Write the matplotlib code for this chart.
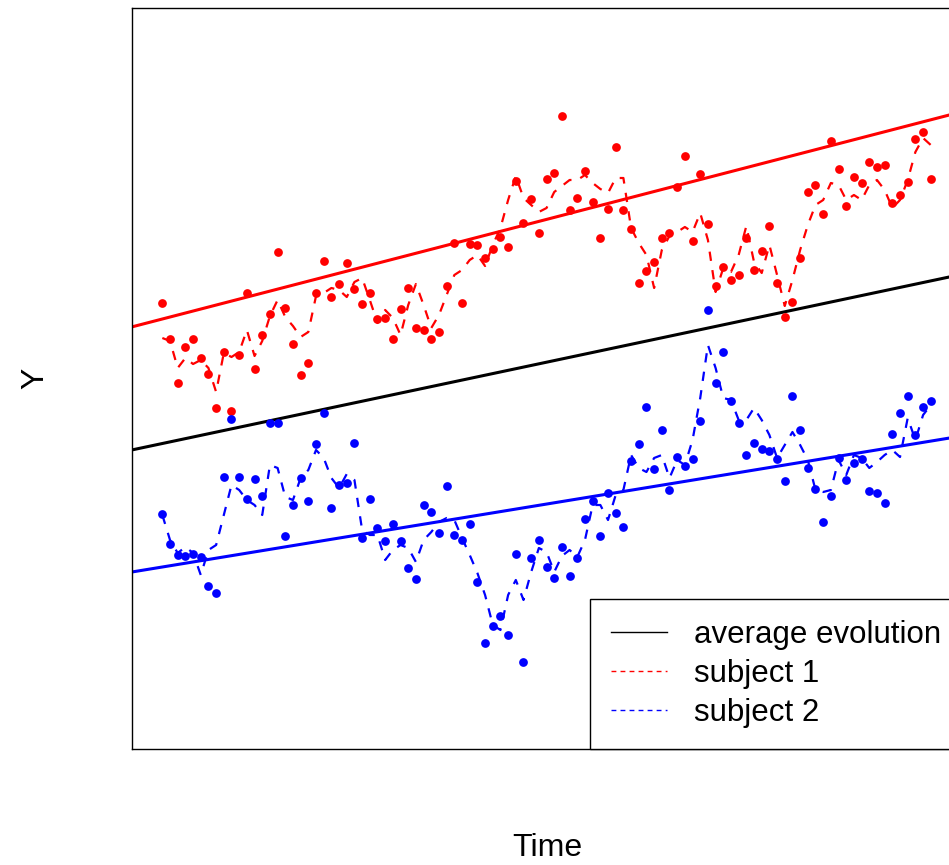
import matplotlib
matplotlib.use("Agg")
import matplotlib.pyplot as plt
from matplotlib.lines import Line2D

plt.rcParams['font.family'] = ['Liberation Sans', 'DejaVu Sans']

time = list(range(0, 101))

subj1_obs = [44.6, 41.0, 36.6, 40.2, 41.0, 39.1, 37.5, 34.1, 39.7, 33.8,
             39.4, 45.6, 38.0, 41.4, 43.5, 49.7, 44.1, 40.5, 37.4, 38.6,
             45.6, 48.8, 45.2, 46.5, 48.6, 46.0, 44.5, 45.6, 43.0, 43.1,
             41.0, 44.0, 46.1, 42.1, 41.9, 41.0, 41.7, 46.3, 50.6, 44.6,
             50.5, 50.4, 49.1, 50.0, 51.2, 50.2, 56.8, 52.6, 55.0, 51.6,
             57.0, 57.6, 63.3, 53.9, 55.1, 57.8, 54.7, 51.1, 54.0, 60.2,
             53.9, 52.0, 46.6, 47.8, 48.7, 51.1, 51.6, 56.2, 59.3, 50.8,
             57.5, 52.5, 46.3, 48.2, 46.9, 47.4, 51.1, 47.9, 49.8, 52.3,
             46.6, 43.2, 44.7, 49.1, 55.7, 56.4, 53.5, 60.8, 58.0, 54.3,
             57.2, 56.6, 58.7, 58.2, 58.4, 54.6, 55.4, 56.7, 61.0, 61.7,
             57.0]

subj1_path = [41.1, 40.8, 38.1, 39.1, 38.5, 38.9, 38.1, 35.7, 39.6, 39.2,
              39.7, 41.9, 39.3, 40.8, 43.3, 44.9, 43.2, 42.3, 41.2, 41.7,
              45.3, 45.6, 46.1, 45.9, 45.2, 46.7, 47.1, 44.9, 42.6, 43.9,
              43.1, 41.4, 44.4, 46.5, 44.4, 42.1, 43.4, 45.4, 47.4, 47.9,
              48.9, 49.4, 48.3, 50.4, 52.1, 54.9, 57.3, 55.1, 54.4, 53.7,
              54.1, 55.7, 56.3, 56.9, 56.9, 57.4, 56.6, 56.0, 55.6, 57.1,
              57.1, 52.1, 50.6, 49.4, 46.1, 49.9, 51.3, 51.7, 52.2, 51.7,
              53.6, 50.9, 45.7, 48.1, 47.7, 49.4, 52.3, 48.7, 47.6, 50.4,
              47.4, 44.3, 46.9, 49.9, 52.4, 54.4, 54.9, 56.6, 56.4, 54.9,
              55.4, 54.9, 56.4, 56.9, 55.9, 54.1, 54.9, 56.9, 59.7, 61.1,
              60.4]

subj2_obs = [23.5, 20.5, 19.4, 19.3, 19.5, 19.2, 16.3, 15.6, 27.2, 33.0,
             27.2, 25.0, 27.0, 25.3, 32.6, 32.6, 21.3, 24.4, 27.1, 24.8,
             30.5, 33.6, 24.1, 26.4, 26.6, 30.6, 21.1, 25.0, 22.1, 20.8,
             22.5, 20.8, 18.1, 17.0, 24.4, 23.7, 21.6, 26.3, 21.4, 20.9,
             22.5, 16.7, 10.6, 12.3, 13.3, 11.4, 19.5, 8.7, 19.1, 20.9,
             18.2, 17.1, 20.2, 17.3, 19.1, 23.0, 24.8, 21.3, 25.6, 23.6,
             22.2, 28.8, 30.5, 34.2, 28.0, 31.9, 25.9, 29.2, 28.3, 29.0,
             32.8, 43.9, 36.6, 39.7, 34.8, 32.6, 29.4, 30.6, 30.0, 29.8,
             29.0, 26.8, 35.3, 31.9, 28.1, 26.0, 22.7, 25.3, 29.1, 26.9,
             28.6, 29.0, 25.8, 25.6, 24.6, 31.5, 33.6, 35.3, 31.4, 34.2,
             34.8]

subj2_path = [23.4, 20.9, 19.6, 20.2, 19.6, 17.4, 19.9, 20.4, 23.4, 26.4,
              25.9, 24.9, 24.4, 23.4, 28.4, 28.1, 25.2, 24.9, 27.1, 27.9,
              29.9, 29.1, 27.1, 26.1, 27.5, 26.9, 21.9, 21.4, 21.4, 18.9,
              19.9, 20.4, 20.1, 18.7, 20.9, 21.7, 22.7, 23.1, 22.9, 21.1,
              19.4, 17.6, 15.4, 12.4, 11.9, 15.4, 16.9, 14.9, 17.7, 20.1,
              19.7, 17.7, 19.3, 19.9, 19.2, 20.9, 24.4, 24.4, 22.9, 25.4,
              25.9, 29.4, 28.1, 27.7, 29.1, 29.4, 27.1, 28.9, 28.4, 30.9,
              35.1, 40.4, 38.1, 35.1, 34.9, 32.9, 32.9, 34.1, 32.9, 31.4,
              29.1, 30.4, 31.7, 30.4, 28.9, 25.9, 25.7, 25.9, 28.9, 27.4,
              29.4, 29.1, 28.1, 28.7, 29.4, 29.9, 29.2, 33.1, 30.9, 33.4,
              34.4]

# linear evolutions: intercept, slope
avg_line = (30.55, 0.1626)
subj1_line = (43.0, 0.1992)
subj2_line = (18.2, 0.1259)

legend_labels = ["average evolution", "subject 1", "subject 2"]

W, H = 949, 865
fig = plt.figure(figsize=(W / 100, H / 100), dpi=100)
ax = fig.add_axes([131.6 / W, 116 / H, 829.9 / W, 741 / H])
ax.set_xlim(-4, 104)
ax.set_ylim(0, 74.1)
ax.set_xticks([])
ax.set_yticks([])
for s in ax.spines.values():
    s.set_linewidth(1.0)
    s.set_color('black')

for (b0, b1), c in [(avg_line, 'black'), (subj1_line, 'red'), (subj2_line, 'blue')]:
    ax.axline((0, b0), slope=b1, color=c, lw=2.2, zorder=2)

ax.plot(time, subj1_path, color='red', lw=1.6, dashes=(4.2, 4.2), zorder=3)
ax.plot(time, subj2_path, color='blue', lw=1.6, dashes=(4.2, 4.2), zorder=3)
ax.plot(time, subj1_obs, 'o', color='red', ms=6.3, mec='none', zorder=4)
ax.plot(time, subj2_obs, 'o', color='blue', ms=6.3, mec='none', zorder=4)

handles = [Line2D([], [], color='black', lw=1.0),
           Line2D([], [], color='red', lw=1.0, dashes=(3.5, 3)),
           Line2D([], [], color='blue', lw=1.0, dashes=(3.5, 3))]
leg = ax.legend(handles, legend_labels, loc='lower right', bbox_to_anchor=(1, 0),
                borderaxespad=0, fontsize=22.5, frameon=True, fancybox=False,
                edgecolor='black', framealpha=1, borderpad=0.66,
                handlelength=1.8, handletextpad=0.85, labelspacing=0.3)
leg.get_frame().set_linewidth(1.0)

fig.text(547 / W, (H - 848) / H, "Time", ha='center', va='center', fontsize=23)
fig.text(35 / W, (H - 378) / H, "Y", ha='center', va='center', rotation=90, fontsize=23)

fig.savefig("out.png", dpi=100)
